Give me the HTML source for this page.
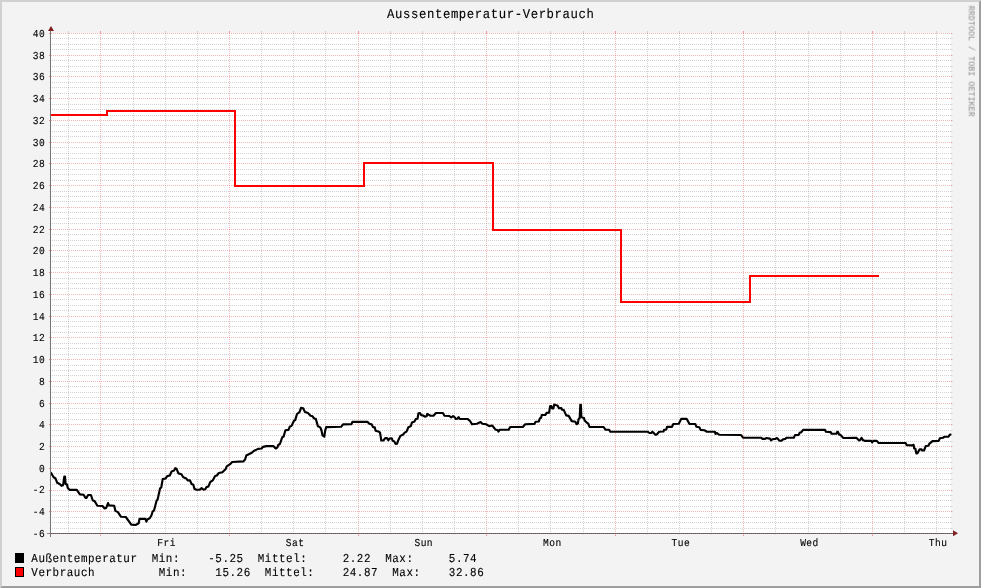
<!DOCTYPE html>
<html><head><meta charset="utf-8"><title>Aussentemperatur-Verbrauch</title>
<style>html,body{margin:0;padding:0;background:#F3F3F3;overflow:hidden}svg{display:block}text{font-family:"Liberation Mono",monospace;text-rendering:geometricPrecision}</style></head><body>
<svg width="981" height="588" viewBox="0 0 981 588">
<rect width="981" height="588" fill="#F3F3F3"/>
<polygon points="0,0 981,0 979,2 2,2 2,586 0,588" fill="#D0D0D0"/>
<polygon points="981,588 981,0 979,2 979,586 2,586 0,588" fill="#9E9E9E"/>
<g shape-rendering="crispEdges">
<rect x="51" y="33" width="900" height="500" fill="#fff"/>
</g>
<g shape-rendering="crispEdges" fill="none" stroke-width="1">
<path d="M49 528.5H50" stroke="#E4E4E4"/>
<path d="M951 528.5H952" stroke="#D8D8D8"/><path d="M952 528.5H953" stroke="#E6E6E6"/>
<path d="M52 528.5H951" stroke="#909090" stroke-opacity="0.4" stroke-dasharray="1 1"/>
<path d="M49 522.5H50" stroke="#E4E4E4"/>
<path d="M951 522.5H952" stroke="#D8D8D8"/><path d="M952 522.5H953" stroke="#E6E6E6"/>
<path d="M52 522.5H951" stroke="#909090" stroke-opacity="0.4" stroke-dasharray="1 1"/>
<path d="M49 517.5H50" stroke="#E4E4E4"/>
<path d="M951 517.5H952" stroke="#D8D8D8"/><path d="M952 517.5H953" stroke="#E6E6E6"/>
<path d="M52 517.5H951" stroke="#909090" stroke-opacity="0.4" stroke-dasharray="1 1"/>
<path d="M49 506.5H50" stroke="#E4E4E4"/>
<path d="M951 506.5H952" stroke="#D8D8D8"/><path d="M952 506.5H953" stroke="#E6E6E6"/>
<path d="M52 506.5H951" stroke="#909090" stroke-opacity="0.4" stroke-dasharray="1 1"/>
<path d="M49 500.5H50" stroke="#E4E4E4"/>
<path d="M951 500.5H952" stroke="#D8D8D8"/><path d="M952 500.5H953" stroke="#E6E6E6"/>
<path d="M52 500.5H951" stroke="#909090" stroke-opacity="0.4" stroke-dasharray="1 1"/>
<path d="M49 495.5H50" stroke="#E4E4E4"/>
<path d="M951 495.5H952" stroke="#D8D8D8"/><path d="M952 495.5H953" stroke="#E6E6E6"/>
<path d="M52 495.5H951" stroke="#909090" stroke-opacity="0.4" stroke-dasharray="1 1"/>
<path d="M49 484.5H50" stroke="#E4E4E4"/>
<path d="M951 484.5H952" stroke="#D8D8D8"/><path d="M952 484.5H953" stroke="#E6E6E6"/>
<path d="M52 484.5H951" stroke="#909090" stroke-opacity="0.4" stroke-dasharray="1 1"/>
<path d="M49 479.5H50" stroke="#E4E4E4"/>
<path d="M951 479.5H952" stroke="#D8D8D8"/><path d="M952 479.5H953" stroke="#E6E6E6"/>
<path d="M52 479.5H951" stroke="#909090" stroke-opacity="0.4" stroke-dasharray="1 1"/>
<path d="M49 473.5H50" stroke="#E4E4E4"/>
<path d="M951 473.5H952" stroke="#D8D8D8"/><path d="M952 473.5H953" stroke="#E6E6E6"/>
<path d="M52 473.5H951" stroke="#909090" stroke-opacity="0.4" stroke-dasharray="1 1"/>
<path d="M49 462.5H50" stroke="#E4E4E4"/>
<path d="M951 462.5H952" stroke="#D8D8D8"/><path d="M952 462.5H953" stroke="#E6E6E6"/>
<path d="M52 462.5H951" stroke="#909090" stroke-opacity="0.4" stroke-dasharray="1 1"/>
<path d="M49 457.5H50" stroke="#E4E4E4"/>
<path d="M951 457.5H952" stroke="#D8D8D8"/><path d="M952 457.5H953" stroke="#E6E6E6"/>
<path d="M52 457.5H951" stroke="#909090" stroke-opacity="0.4" stroke-dasharray="1 1"/>
<path d="M49 451.5H50" stroke="#E4E4E4"/>
<path d="M951 451.5H952" stroke="#D8D8D8"/><path d="M952 451.5H953" stroke="#E6E6E6"/>
<path d="M52 451.5H951" stroke="#909090" stroke-opacity="0.4" stroke-dasharray="1 1"/>
<path d="M49 441.5H50" stroke="#E4E4E4"/>
<path d="M951 441.5H952" stroke="#D8D8D8"/><path d="M952 441.5H953" stroke="#E6E6E6"/>
<path d="M52 441.5H951" stroke="#909090" stroke-opacity="0.4" stroke-dasharray="1 1"/>
<path d="M49 435.5H50" stroke="#E4E4E4"/>
<path d="M951 435.5H952" stroke="#D8D8D8"/><path d="M952 435.5H953" stroke="#E6E6E6"/>
<path d="M52 435.5H951" stroke="#909090" stroke-opacity="0.4" stroke-dasharray="1 1"/>
<path d="M49 430.5H50" stroke="#E4E4E4"/>
<path d="M951 430.5H952" stroke="#D8D8D8"/><path d="M952 430.5H953" stroke="#E6E6E6"/>
<path d="M52 430.5H951" stroke="#909090" stroke-opacity="0.4" stroke-dasharray="1 1"/>
<path d="M49 419.5H50" stroke="#E4E4E4"/>
<path d="M951 419.5H952" stroke="#D8D8D8"/><path d="M952 419.5H953" stroke="#E6E6E6"/>
<path d="M52 419.5H951" stroke="#909090" stroke-opacity="0.4" stroke-dasharray="1 1"/>
<path d="M49 413.5H50" stroke="#E4E4E4"/>
<path d="M951 413.5H952" stroke="#D8D8D8"/><path d="M952 413.5H953" stroke="#E6E6E6"/>
<path d="M52 413.5H951" stroke="#909090" stroke-opacity="0.4" stroke-dasharray="1 1"/>
<path d="M49 408.5H50" stroke="#E4E4E4"/>
<path d="M951 408.5H952" stroke="#D8D8D8"/><path d="M952 408.5H953" stroke="#E6E6E6"/>
<path d="M52 408.5H951" stroke="#909090" stroke-opacity="0.4" stroke-dasharray="1 1"/>
<path d="M49 397.5H50" stroke="#E4E4E4"/>
<path d="M951 397.5H952" stroke="#D8D8D8"/><path d="M952 397.5H953" stroke="#E6E6E6"/>
<path d="M52 397.5H951" stroke="#909090" stroke-opacity="0.4" stroke-dasharray="1 1"/>
<path d="M49 392.5H50" stroke="#E4E4E4"/>
<path d="M951 392.5H952" stroke="#D8D8D8"/><path d="M952 392.5H953" stroke="#E6E6E6"/>
<path d="M52 392.5H951" stroke="#909090" stroke-opacity="0.4" stroke-dasharray="1 1"/>
<path d="M49 386.5H50" stroke="#E4E4E4"/>
<path d="M951 386.5H952" stroke="#D8D8D8"/><path d="M952 386.5H953" stroke="#E6E6E6"/>
<path d="M52 386.5H951" stroke="#909090" stroke-opacity="0.4" stroke-dasharray="1 1"/>
<path d="M49 375.5H50" stroke="#E4E4E4"/>
<path d="M951 375.5H952" stroke="#D8D8D8"/><path d="M952 375.5H953" stroke="#E6E6E6"/>
<path d="M52 375.5H951" stroke="#909090" stroke-opacity="0.4" stroke-dasharray="1 1"/>
<path d="M49 370.5H50" stroke="#E4E4E4"/>
<path d="M951 370.5H952" stroke="#D8D8D8"/><path d="M952 370.5H953" stroke="#E6E6E6"/>
<path d="M52 370.5H951" stroke="#909090" stroke-opacity="0.4" stroke-dasharray="1 1"/>
<path d="M49 365.5H50" stroke="#E4E4E4"/>
<path d="M951 365.5H952" stroke="#D8D8D8"/><path d="M952 365.5H953" stroke="#E6E6E6"/>
<path d="M52 365.5H951" stroke="#909090" stroke-opacity="0.4" stroke-dasharray="1 1"/>
<path d="M49 354.5H50" stroke="#E4E4E4"/>
<path d="M951 354.5H952" stroke="#D8D8D8"/><path d="M952 354.5H953" stroke="#E6E6E6"/>
<path d="M52 354.5H951" stroke="#909090" stroke-opacity="0.4" stroke-dasharray="1 1"/>
<path d="M49 348.5H50" stroke="#E4E4E4"/>
<path d="M951 348.5H952" stroke="#D8D8D8"/><path d="M952 348.5H953" stroke="#E6E6E6"/>
<path d="M52 348.5H951" stroke="#909090" stroke-opacity="0.4" stroke-dasharray="1 1"/>
<path d="M49 343.5H50" stroke="#E4E4E4"/>
<path d="M951 343.5H952" stroke="#D8D8D8"/><path d="M952 343.5H953" stroke="#E6E6E6"/>
<path d="M52 343.5H951" stroke="#909090" stroke-opacity="0.4" stroke-dasharray="1 1"/>
<path d="M49 332.5H50" stroke="#E4E4E4"/>
<path d="M951 332.5H952" stroke="#D8D8D8"/><path d="M952 332.5H953" stroke="#E6E6E6"/>
<path d="M52 332.5H951" stroke="#909090" stroke-opacity="0.4" stroke-dasharray="1 1"/>
<path d="M49 326.5H50" stroke="#E4E4E4"/>
<path d="M951 326.5H952" stroke="#D8D8D8"/><path d="M952 326.5H953" stroke="#E6E6E6"/>
<path d="M52 326.5H951" stroke="#909090" stroke-opacity="0.4" stroke-dasharray="1 1"/>
<path d="M49 321.5H50" stroke="#E4E4E4"/>
<path d="M951 321.5H952" stroke="#D8D8D8"/><path d="M952 321.5H953" stroke="#E6E6E6"/>
<path d="M52 321.5H951" stroke="#909090" stroke-opacity="0.4" stroke-dasharray="1 1"/>
<path d="M49 310.5H50" stroke="#E4E4E4"/>
<path d="M951 310.5H952" stroke="#D8D8D8"/><path d="M952 310.5H953" stroke="#E6E6E6"/>
<path d="M52 310.5H951" stroke="#909090" stroke-opacity="0.4" stroke-dasharray="1 1"/>
<path d="M49 305.5H50" stroke="#E4E4E4"/>
<path d="M951 305.5H952" stroke="#D8D8D8"/><path d="M952 305.5H953" stroke="#E6E6E6"/>
<path d="M52 305.5H951" stroke="#909090" stroke-opacity="0.4" stroke-dasharray="1 1"/>
<path d="M49 299.5H50" stroke="#E4E4E4"/>
<path d="M951 299.5H952" stroke="#D8D8D8"/><path d="M952 299.5H953" stroke="#E6E6E6"/>
<path d="M52 299.5H951" stroke="#909090" stroke-opacity="0.4" stroke-dasharray="1 1"/>
<path d="M49 288.5H50" stroke="#E4E4E4"/>
<path d="M951 288.5H952" stroke="#D8D8D8"/><path d="M952 288.5H953" stroke="#E6E6E6"/>
<path d="M52 288.5H951" stroke="#909090" stroke-opacity="0.4" stroke-dasharray="1 1"/>
<path d="M49 283.5H50" stroke="#E4E4E4"/>
<path d="M951 283.5H952" stroke="#D8D8D8"/><path d="M952 283.5H953" stroke="#E6E6E6"/>
<path d="M52 283.5H951" stroke="#909090" stroke-opacity="0.4" stroke-dasharray="1 1"/>
<path d="M49 278.5H50" stroke="#E4E4E4"/>
<path d="M951 278.5H952" stroke="#D8D8D8"/><path d="M952 278.5H953" stroke="#E6E6E6"/>
<path d="M52 278.5H951" stroke="#909090" stroke-opacity="0.4" stroke-dasharray="1 1"/>
<path d="M49 267.5H50" stroke="#E4E4E4"/>
<path d="M951 267.5H952" stroke="#D8D8D8"/><path d="M952 267.5H953" stroke="#E6E6E6"/>
<path d="M52 267.5H951" stroke="#909090" stroke-opacity="0.4" stroke-dasharray="1 1"/>
<path d="M49 261.5H50" stroke="#E4E4E4"/>
<path d="M951 261.5H952" stroke="#D8D8D8"/><path d="M952 261.5H953" stroke="#E6E6E6"/>
<path d="M52 261.5H951" stroke="#909090" stroke-opacity="0.4" stroke-dasharray="1 1"/>
<path d="M49 256.5H50" stroke="#E4E4E4"/>
<path d="M951 256.5H952" stroke="#D8D8D8"/><path d="M952 256.5H953" stroke="#E6E6E6"/>
<path d="M52 256.5H951" stroke="#909090" stroke-opacity="0.4" stroke-dasharray="1 1"/>
<path d="M49 245.5H50" stroke="#E4E4E4"/>
<path d="M951 245.5H952" stroke="#D8D8D8"/><path d="M952 245.5H953" stroke="#E6E6E6"/>
<path d="M52 245.5H951" stroke="#909090" stroke-opacity="0.4" stroke-dasharray="1 1"/>
<path d="M49 240.5H50" stroke="#E4E4E4"/>
<path d="M951 240.5H952" stroke="#D8D8D8"/><path d="M952 240.5H953" stroke="#E6E6E6"/>
<path d="M52 240.5H951" stroke="#909090" stroke-opacity="0.4" stroke-dasharray="1 1"/>
<path d="M49 234.5H50" stroke="#E4E4E4"/>
<path d="M951 234.5H952" stroke="#D8D8D8"/><path d="M952 234.5H953" stroke="#E6E6E6"/>
<path d="M52 234.5H951" stroke="#909090" stroke-opacity="0.4" stroke-dasharray="1 1"/>
<path d="M49 223.5H50" stroke="#E4E4E4"/>
<path d="M951 223.5H952" stroke="#D8D8D8"/><path d="M952 223.5H953" stroke="#E6E6E6"/>
<path d="M52 223.5H951" stroke="#909090" stroke-opacity="0.4" stroke-dasharray="1 1"/>
<path d="M49 218.5H50" stroke="#E4E4E4"/>
<path d="M951 218.5H952" stroke="#D8D8D8"/><path d="M952 218.5H953" stroke="#E6E6E6"/>
<path d="M52 218.5H951" stroke="#909090" stroke-opacity="0.4" stroke-dasharray="1 1"/>
<path d="M49 212.5H50" stroke="#E4E4E4"/>
<path d="M951 212.5H952" stroke="#D8D8D8"/><path d="M952 212.5H953" stroke="#E6E6E6"/>
<path d="M52 212.5H951" stroke="#909090" stroke-opacity="0.4" stroke-dasharray="1 1"/>
<path d="M49 201.5H50" stroke="#E4E4E4"/>
<path d="M951 201.5H952" stroke="#D8D8D8"/><path d="M952 201.5H953" stroke="#E6E6E6"/>
<path d="M52 201.5H951" stroke="#909090" stroke-opacity="0.4" stroke-dasharray="1 1"/>
<path d="M49 196.5H50" stroke="#E4E4E4"/>
<path d="M951 196.5H952" stroke="#D8D8D8"/><path d="M952 196.5H953" stroke="#E6E6E6"/>
<path d="M52 196.5H951" stroke="#909090" stroke-opacity="0.4" stroke-dasharray="1 1"/>
<path d="M49 191.5H50" stroke="#E4E4E4"/>
<path d="M951 191.5H952" stroke="#D8D8D8"/><path d="M952 191.5H953" stroke="#E6E6E6"/>
<path d="M52 191.5H951" stroke="#909090" stroke-opacity="0.4" stroke-dasharray="1 1"/>
<path d="M49 180.5H50" stroke="#E4E4E4"/>
<path d="M951 180.5H952" stroke="#D8D8D8"/><path d="M952 180.5H953" stroke="#E6E6E6"/>
<path d="M52 180.5H951" stroke="#909090" stroke-opacity="0.4" stroke-dasharray="1 1"/>
<path d="M49 174.5H50" stroke="#E4E4E4"/>
<path d="M951 174.5H952" stroke="#D8D8D8"/><path d="M952 174.5H953" stroke="#E6E6E6"/>
<path d="M52 174.5H951" stroke="#909090" stroke-opacity="0.4" stroke-dasharray="1 1"/>
<path d="M49 169.5H50" stroke="#E4E4E4"/>
<path d="M951 169.5H952" stroke="#D8D8D8"/><path d="M952 169.5H953" stroke="#E6E6E6"/>
<path d="M52 169.5H951" stroke="#909090" stroke-opacity="0.4" stroke-dasharray="1 1"/>
<path d="M49 158.5H50" stroke="#E4E4E4"/>
<path d="M951 158.5H952" stroke="#D8D8D8"/><path d="M952 158.5H953" stroke="#E6E6E6"/>
<path d="M52 158.5H951" stroke="#909090" stroke-opacity="0.4" stroke-dasharray="1 1"/>
<path d="M49 153.5H50" stroke="#E4E4E4"/>
<path d="M951 153.5H952" stroke="#D8D8D8"/><path d="M952 153.5H953" stroke="#E6E6E6"/>
<path d="M52 153.5H951" stroke="#909090" stroke-opacity="0.4" stroke-dasharray="1 1"/>
<path d="M49 147.5H50" stroke="#E4E4E4"/>
<path d="M951 147.5H952" stroke="#D8D8D8"/><path d="M952 147.5H953" stroke="#E6E6E6"/>
<path d="M52 147.5H951" stroke="#909090" stroke-opacity="0.4" stroke-dasharray="1 1"/>
<path d="M49 136.5H50" stroke="#E4E4E4"/>
<path d="M951 136.5H952" stroke="#D8D8D8"/><path d="M952 136.5H953" stroke="#E6E6E6"/>
<path d="M52 136.5H951" stroke="#909090" stroke-opacity="0.4" stroke-dasharray="1 1"/>
<path d="M49 131.5H50" stroke="#E4E4E4"/>
<path d="M951 131.5H952" stroke="#D8D8D8"/><path d="M952 131.5H953" stroke="#E6E6E6"/>
<path d="M52 131.5H951" stroke="#909090" stroke-opacity="0.4" stroke-dasharray="1 1"/>
<path d="M49 125.5H50" stroke="#E4E4E4"/>
<path d="M951 125.5H952" stroke="#D8D8D8"/><path d="M952 125.5H953" stroke="#E6E6E6"/>
<path d="M52 125.5H951" stroke="#909090" stroke-opacity="0.4" stroke-dasharray="1 1"/>
<path d="M49 115.5H50" stroke="#E4E4E4"/>
<path d="M951 115.5H952" stroke="#D8D8D8"/><path d="M952 115.5H953" stroke="#E6E6E6"/>
<path d="M52 115.5H951" stroke="#909090" stroke-opacity="0.4" stroke-dasharray="1 1"/>
<path d="M49 109.5H50" stroke="#E4E4E4"/>
<path d="M951 109.5H952" stroke="#D8D8D8"/><path d="M952 109.5H953" stroke="#E6E6E6"/>
<path d="M52 109.5H951" stroke="#909090" stroke-opacity="0.4" stroke-dasharray="1 1"/>
<path d="M49 104.5H50" stroke="#E4E4E4"/>
<path d="M951 104.5H952" stroke="#D8D8D8"/><path d="M952 104.5H953" stroke="#E6E6E6"/>
<path d="M52 104.5H951" stroke="#909090" stroke-opacity="0.4" stroke-dasharray="1 1"/>
<path d="M49 93.5H50" stroke="#E4E4E4"/>
<path d="M951 93.5H952" stroke="#D8D8D8"/><path d="M952 93.5H953" stroke="#E6E6E6"/>
<path d="M52 93.5H951" stroke="#909090" stroke-opacity="0.4" stroke-dasharray="1 1"/>
<path d="M49 87.5H50" stroke="#E4E4E4"/>
<path d="M951 87.5H952" stroke="#D8D8D8"/><path d="M952 87.5H953" stroke="#E6E6E6"/>
<path d="M52 87.5H951" stroke="#909090" stroke-opacity="0.4" stroke-dasharray="1 1"/>
<path d="M49 82.5H50" stroke="#E4E4E4"/>
<path d="M951 82.5H952" stroke="#D8D8D8"/><path d="M952 82.5H953" stroke="#E6E6E6"/>
<path d="M52 82.5H951" stroke="#909090" stroke-opacity="0.4" stroke-dasharray="1 1"/>
<path d="M49 71.5H50" stroke="#E4E4E4"/>
<path d="M951 71.5H952" stroke="#D8D8D8"/><path d="M952 71.5H953" stroke="#E6E6E6"/>
<path d="M52 71.5H951" stroke="#909090" stroke-opacity="0.4" stroke-dasharray="1 1"/>
<path d="M49 66.5H50" stroke="#E4E4E4"/>
<path d="M951 66.5H952" stroke="#D8D8D8"/><path d="M952 66.5H953" stroke="#E6E6E6"/>
<path d="M52 66.5H951" stroke="#909090" stroke-opacity="0.4" stroke-dasharray="1 1"/>
<path d="M49 60.5H50" stroke="#E4E4E4"/>
<path d="M951 60.5H952" stroke="#D8D8D8"/><path d="M952 60.5H953" stroke="#E6E6E6"/>
<path d="M52 60.5H951" stroke="#909090" stroke-opacity="0.4" stroke-dasharray="1 1"/>
<path d="M49 49.5H50" stroke="#E4E4E4"/>
<path d="M951 49.5H952" stroke="#D8D8D8"/><path d="M952 49.5H953" stroke="#E6E6E6"/>
<path d="M52 49.5H951" stroke="#909090" stroke-opacity="0.4" stroke-dasharray="1 1"/>
<path d="M49 44.5H50" stroke="#E4E4E4"/>
<path d="M951 44.5H952" stroke="#D8D8D8"/><path d="M952 44.5H953" stroke="#E6E6E6"/>
<path d="M52 44.5H951" stroke="#909090" stroke-opacity="0.4" stroke-dasharray="1 1"/>
<path d="M49 38.5H50" stroke="#E4E4E4"/>
<path d="M951 38.5H952" stroke="#D8D8D8"/><path d="M952 38.5H953" stroke="#E6E6E6"/>
<path d="M52 38.5H951" stroke="#909090" stroke-opacity="0.4" stroke-dasharray="1 1"/>
<path d="M68.5 31V33" stroke="#D2D2D2"/>
<path d="M68.5 534V535" stroke="#E4E4E4"/>
<path d="M68.5 33V533" stroke="#909090" stroke-opacity="0.4" stroke-dasharray="1 1"/>
<path d="M133.5 31V33" stroke="#D2D2D2"/>
<path d="M133.5 534V535" stroke="#E4E4E4"/>
<path d="M133.5 33V533" stroke="#909090" stroke-opacity="0.4" stroke-dasharray="1 1"/>
<path d="M165.5 31V33" stroke="#D2D2D2"/>
<path d="M165.5 534V535" stroke="#E4E4E4"/>
<path d="M165.5 33V533" stroke="#909090" stroke-opacity="0.4" stroke-dasharray="1 1"/>
<path d="M197.5 31V33" stroke="#D2D2D2"/>
<path d="M197.5 534V535" stroke="#E4E4E4"/>
<path d="M197.5 33V533" stroke="#909090" stroke-opacity="0.4" stroke-dasharray="1 1"/>
<path d="M261.5 31V33" stroke="#D2D2D2"/>
<path d="M261.5 534V535" stroke="#E4E4E4"/>
<path d="M261.5 33V533" stroke="#909090" stroke-opacity="0.4" stroke-dasharray="1 1"/>
<path d="M293.5 31V33" stroke="#D2D2D2"/>
<path d="M293.5 534V535" stroke="#E4E4E4"/>
<path d="M293.5 33V533" stroke="#909090" stroke-opacity="0.4" stroke-dasharray="1 1"/>
<path d="M325.5 31V33" stroke="#D2D2D2"/>
<path d="M325.5 534V535" stroke="#E4E4E4"/>
<path d="M325.5 33V533" stroke="#909090" stroke-opacity="0.4" stroke-dasharray="1 1"/>
<path d="M390.5 31V33" stroke="#D2D2D2"/>
<path d="M390.5 534V535" stroke="#E4E4E4"/>
<path d="M390.5 33V533" stroke="#909090" stroke-opacity="0.4" stroke-dasharray="1 1"/>
<path d="M422.5 31V33" stroke="#D2D2D2"/>
<path d="M422.5 534V535" stroke="#E4E4E4"/>
<path d="M422.5 33V533" stroke="#909090" stroke-opacity="0.4" stroke-dasharray="1 1"/>
<path d="M454.5 31V33" stroke="#D2D2D2"/>
<path d="M454.5 534V535" stroke="#E4E4E4"/>
<path d="M454.5 33V533" stroke="#909090" stroke-opacity="0.4" stroke-dasharray="1 1"/>
<path d="M518.5 31V33" stroke="#D2D2D2"/>
<path d="M518.5 534V535" stroke="#E4E4E4"/>
<path d="M518.5 33V533" stroke="#909090" stroke-opacity="0.4" stroke-dasharray="1 1"/>
<path d="M550.5 31V33" stroke="#D2D2D2"/>
<path d="M550.5 534V535" stroke="#E4E4E4"/>
<path d="M550.5 33V533" stroke="#909090" stroke-opacity="0.4" stroke-dasharray="1 1"/>
<path d="M583.5 31V33" stroke="#D2D2D2"/>
<path d="M583.5 534V535" stroke="#E4E4E4"/>
<path d="M583.5 33V533" stroke="#909090" stroke-opacity="0.4" stroke-dasharray="1 1"/>
<path d="M647.5 31V33" stroke="#D2D2D2"/>
<path d="M647.5 534V535" stroke="#E4E4E4"/>
<path d="M647.5 33V533" stroke="#909090" stroke-opacity="0.4" stroke-dasharray="1 1"/>
<path d="M679.5 31V33" stroke="#D2D2D2"/>
<path d="M679.5 534V535" stroke="#E4E4E4"/>
<path d="M679.5 33V533" stroke="#909090" stroke-opacity="0.4" stroke-dasharray="1 1"/>
<path d="M711.5 31V33" stroke="#D2D2D2"/>
<path d="M711.5 534V535" stroke="#E4E4E4"/>
<path d="M711.5 33V533" stroke="#909090" stroke-opacity="0.4" stroke-dasharray="1 1"/>
<path d="M775.5 31V33" stroke="#D2D2D2"/>
<path d="M775.5 534V535" stroke="#E4E4E4"/>
<path d="M775.5 33V533" stroke="#909090" stroke-opacity="0.4" stroke-dasharray="1 1"/>
<path d="M808.5 31V33" stroke="#D2D2D2"/>
<path d="M808.5 534V535" stroke="#E4E4E4"/>
<path d="M808.5 33V533" stroke="#909090" stroke-opacity="0.4" stroke-dasharray="1 1"/>
<path d="M840.5 31V33" stroke="#D2D2D2"/>
<path d="M840.5 534V535" stroke="#E4E4E4"/>
<path d="M840.5 33V533" stroke="#909090" stroke-opacity="0.4" stroke-dasharray="1 1"/>
<path d="M904.5 31V33" stroke="#D2D2D2"/>
<path d="M904.5 534V535" stroke="#E4E4E4"/>
<path d="M904.5 33V533" stroke="#909090" stroke-opacity="0.4" stroke-dasharray="1 1"/>
<path d="M936.5 31V33" stroke="#D2D2D2"/>
<path d="M936.5 534V535" stroke="#E4E4E4"/>
<path d="M936.5 33V533" stroke="#909090" stroke-opacity="0.4" stroke-dasharray="1 1"/>
<path d="M49 533.5H50" stroke="#EF8E96"/>
<path d="M951 533.5H952" stroke="#EE8E94"/><path d="M952 533.5H953" stroke="#F2D2D2"/>
<path d="M51 533.5H951" stroke="#E05050" stroke-opacity="0.4" stroke-dasharray="1 1"/>
<path d="M49 511.5H50" stroke="#EF8E96"/>
<path d="M951 511.5H952" stroke="#EE8E94"/><path d="M952 511.5H953" stroke="#F2D2D2"/>
<path d="M51 511.5H951" stroke="#E05050" stroke-opacity="0.4" stroke-dasharray="1 1"/>
<path d="M49 490.5H50" stroke="#EF8E96"/>
<path d="M951 490.5H952" stroke="#EE8E94"/><path d="M952 490.5H953" stroke="#F2D2D2"/>
<path d="M51 490.5H951" stroke="#E05050" stroke-opacity="0.4" stroke-dasharray="1 1"/>
<path d="M49 468.5H50" stroke="#EF8E96"/>
<path d="M951 468.5H952" stroke="#EE8E94"/><path d="M952 468.5H953" stroke="#F2D2D2"/>
<path d="M51 468.5H951" stroke="#E05050" stroke-opacity="0.4" stroke-dasharray="1 1"/>
<path d="M49 446.5H50" stroke="#EF8E96"/>
<path d="M951 446.5H952" stroke="#EE8E94"/><path d="M952 446.5H953" stroke="#F2D2D2"/>
<path d="M51 446.5H951" stroke="#E05050" stroke-opacity="0.4" stroke-dasharray="1 1"/>
<path d="M49 424.5H50" stroke="#EF8E96"/>
<path d="M951 424.5H952" stroke="#EE8E94"/><path d="M952 424.5H953" stroke="#F2D2D2"/>
<path d="M51 424.5H951" stroke="#E05050" stroke-opacity="0.4" stroke-dasharray="1 1"/>
<path d="M49 403.5H50" stroke="#EF8E96"/>
<path d="M951 403.5H952" stroke="#EE8E94"/><path d="M952 403.5H953" stroke="#F2D2D2"/>
<path d="M51 403.5H951" stroke="#E05050" stroke-opacity="0.4" stroke-dasharray="1 1"/>
<path d="M49 381.5H50" stroke="#EF8E96"/>
<path d="M951 381.5H952" stroke="#EE8E94"/><path d="M952 381.5H953" stroke="#F2D2D2"/>
<path d="M51 381.5H951" stroke="#E05050" stroke-opacity="0.4" stroke-dasharray="1 1"/>
<path d="M49 359.5H50" stroke="#EF8E96"/>
<path d="M951 359.5H952" stroke="#EE8E94"/><path d="M952 359.5H953" stroke="#F2D2D2"/>
<path d="M51 359.5H951" stroke="#E05050" stroke-opacity="0.4" stroke-dasharray="1 1"/>
<path d="M49 337.5H50" stroke="#EF8E96"/>
<path d="M951 337.5H952" stroke="#EE8E94"/><path d="M952 337.5H953" stroke="#F2D2D2"/>
<path d="M51 337.5H951" stroke="#E05050" stroke-opacity="0.4" stroke-dasharray="1 1"/>
<path d="M49 316.5H50" stroke="#EF8E96"/>
<path d="M951 316.5H952" stroke="#EE8E94"/><path d="M952 316.5H953" stroke="#F2D2D2"/>
<path d="M51 316.5H951" stroke="#E05050" stroke-opacity="0.4" stroke-dasharray="1 1"/>
<path d="M49 294.5H50" stroke="#EF8E96"/>
<path d="M951 294.5H952" stroke="#EE8E94"/><path d="M952 294.5H953" stroke="#F2D2D2"/>
<path d="M51 294.5H951" stroke="#E05050" stroke-opacity="0.4" stroke-dasharray="1 1"/>
<path d="M49 272.5H50" stroke="#EF8E96"/>
<path d="M951 272.5H952" stroke="#EE8E94"/><path d="M952 272.5H953" stroke="#F2D2D2"/>
<path d="M51 272.5H951" stroke="#E05050" stroke-opacity="0.4" stroke-dasharray="1 1"/>
<path d="M49 250.5H50" stroke="#EF8E96"/>
<path d="M951 250.5H952" stroke="#EE8E94"/><path d="M952 250.5H953" stroke="#F2D2D2"/>
<path d="M51 250.5H951" stroke="#E05050" stroke-opacity="0.4" stroke-dasharray="1 1"/>
<path d="M49 229.5H50" stroke="#EF8E96"/>
<path d="M951 229.5H952" stroke="#EE8E94"/><path d="M952 229.5H953" stroke="#F2D2D2"/>
<path d="M51 229.5H951" stroke="#E05050" stroke-opacity="0.4" stroke-dasharray="1 1"/>
<path d="M49 207.5H50" stroke="#EF8E96"/>
<path d="M951 207.5H952" stroke="#EE8E94"/><path d="M952 207.5H953" stroke="#F2D2D2"/>
<path d="M51 207.5H951" stroke="#E05050" stroke-opacity="0.4" stroke-dasharray="1 1"/>
<path d="M49 185.5H50" stroke="#EF8E96"/>
<path d="M951 185.5H952" stroke="#EE8E94"/><path d="M952 185.5H953" stroke="#F2D2D2"/>
<path d="M51 185.5H951" stroke="#E05050" stroke-opacity="0.4" stroke-dasharray="1 1"/>
<path d="M49 163.5H50" stroke="#EF8E96"/>
<path d="M951 163.5H952" stroke="#EE8E94"/><path d="M952 163.5H953" stroke="#F2D2D2"/>
<path d="M51 163.5H951" stroke="#E05050" stroke-opacity="0.4" stroke-dasharray="1 1"/>
<path d="M49 142.5H50" stroke="#EF8E96"/>
<path d="M951 142.5H952" stroke="#EE8E94"/><path d="M952 142.5H953" stroke="#F2D2D2"/>
<path d="M51 142.5H951" stroke="#E05050" stroke-opacity="0.4" stroke-dasharray="1 1"/>
<path d="M49 120.5H50" stroke="#EF8E96"/>
<path d="M951 120.5H952" stroke="#EE8E94"/><path d="M952 120.5H953" stroke="#F2D2D2"/>
<path d="M51 120.5H951" stroke="#E05050" stroke-opacity="0.4" stroke-dasharray="1 1"/>
<path d="M49 98.5H50" stroke="#EF8E96"/>
<path d="M951 98.5H952" stroke="#EE8E94"/><path d="M952 98.5H953" stroke="#F2D2D2"/>
<path d="M51 98.5H951" stroke="#E05050" stroke-opacity="0.4" stroke-dasharray="1 1"/>
<path d="M49 76.5H50" stroke="#EF8E96"/>
<path d="M951 76.5H952" stroke="#EE8E94"/><path d="M952 76.5H953" stroke="#F2D2D2"/>
<path d="M51 76.5H951" stroke="#E05050" stroke-opacity="0.4" stroke-dasharray="1 1"/>
<path d="M49 55.5H50" stroke="#EF8E96"/>
<path d="M951 55.5H952" stroke="#EE8E94"/><path d="M952 55.5H953" stroke="#F2D2D2"/>
<path d="M51 55.5H951" stroke="#E05050" stroke-opacity="0.4" stroke-dasharray="1 1"/>
<path d="M49 33.5H50" stroke="#EF8E96"/>
<path d="M951 33.5H952" stroke="#EE8E94"/><path d="M952 33.5H953" stroke="#F2D2D2"/>
<path d="M51 33.5H951" stroke="#E05050" stroke-opacity="0.4" stroke-dasharray="1 1"/>
<path d="M100.5 31V33" stroke="#F09A9A"/>
<path d="M100.5 534V535" stroke="#F6CACA"/>
<path d="M100.5 535V536" stroke="#EF8E96"/>
<path d="M100.5 33V533" stroke="#E05050" stroke-opacity="0.4" stroke-dasharray="1 1"/>
<path d="M229.5 31V33" stroke="#F09A9A"/>
<path d="M229.5 534V535" stroke="#F6CACA"/>
<path d="M229.5 535V536" stroke="#EF8E96"/>
<path d="M229.5 33V533" stroke="#E05050" stroke-opacity="0.4" stroke-dasharray="1 1"/>
<path d="M358.5 31V33" stroke="#F09A9A"/>
<path d="M358.5 534V535" stroke="#F6CACA"/>
<path d="M358.5 535V536" stroke="#EF8E96"/>
<path d="M358.5 33V533" stroke="#E05050" stroke-opacity="0.4" stroke-dasharray="1 1"/>
<path d="M486.5 31V33" stroke="#F09A9A"/>
<path d="M486.5 534V535" stroke="#F6CACA"/>
<path d="M486.5 535V536" stroke="#EF8E96"/>
<path d="M486.5 33V533" stroke="#E05050" stroke-opacity="0.4" stroke-dasharray="1 1"/>
<path d="M615.5 31V33" stroke="#F09A9A"/>
<path d="M615.5 534V535" stroke="#F6CACA"/>
<path d="M615.5 535V536" stroke="#EF8E96"/>
<path d="M615.5 33V533" stroke="#E05050" stroke-opacity="0.4" stroke-dasharray="1 1"/>
<path d="M743.5 31V33" stroke="#F09A9A"/>
<path d="M743.5 534V535" stroke="#F6CACA"/>
<path d="M743.5 535V536" stroke="#EF8E96"/>
<path d="M743.5 33V533" stroke="#E05050" stroke-opacity="0.4" stroke-dasharray="1 1"/>
<path d="M872.5 31V33" stroke="#F09A9A"/>
<path d="M872.5 534V535" stroke="#F6CACA"/>
<path d="M872.5 535V536" stroke="#EF8E96"/>
<path d="M872.5 33V533" stroke="#E05050" stroke-opacity="0.4" stroke-dasharray="1 1"/>
</g>
<polyline fill="none" stroke="#FF0000" stroke-width="2" stroke-linejoin="miter" points="51,115 107,115 107,111 235,111 235,186 364,186 364,163 493,163 493,230 621,230 621,302 750,302 750,276 879,276"/>
<polyline fill="none" stroke="#000" stroke-width="2.15" stroke-linejoin="round" stroke-linecap="round" points="51.1,473 53.6,477.2 55.4,478.2 57.2,482.8 59.7,484 61.5,485.8 63.1,485.2 64.3,476.6 65,476.6 65.6,484 67,484.6 67.7,487.7 69.5,489.9 76.8,489.9 79.9,494.4 83.6,494.8 85.4,497.8 86.6,497.8 88.1,495 90.9,495 92.8,500.5 94.6,501.1 97.4,505.7 102.5,506 104.6,508.5 106.2,507.9 108.1,503 108.9,505.4 114.2,505.8 115.4,510.9 117.9,512.1 120.9,516.7 125.8,517 131.3,524.6 135.6,525 138.7,523.2 139.5,518.9 145.4,518.9 146.4,521.6 147.2,519.5 149.7,518.3 151.5,515.2 152.7,511.3 154,510.5 156.7,500.3 157.6,499.6 160.1,488.3 161.3,487.4 162.7,479.1 165.5,478.5 167.3,476.1 169.8,475.5 171.6,471.4 174.1,470.6 175.3,468.1 176.5,468.7 178.4,473.4 181.4,474.2 183.3,477.3 186.3,478.5 187.6,480.4 190,480.4 191.6,484 193.3,484.7 194.5,488.9 196.7,489.8 199.8,489.6 201.6,488.1 203.5,489.6 205.3,489.3 206.5,487.1 208.4,486.5 210.2,482.2 212.7,480.4 215.1,476.1 216.9,475.5 218.8,473 222.4,472.2 225.5,469.3 226.7,466.3 229.8,464.4 232.2,462 243.3,461.4 245.1,459.5 246.3,455.5 251.8,452.8 253.7,451 258,448.9 261.6,448.5 262.9,446.9 266.5,446.1 273.3,446.1 275.7,448.5 277.5,447.3 278.1,445.2 279.9,444 282.3,437.2 283.6,436.6 285.4,430.3 288.5,429.9 289.7,426.8 291.5,425.9 294,420.7 295.2,420.1 297,414 299.5,412.1 301,407.9 303.2,408.2 305,412.1 308.1,413.1 310.5,415.8 312.3,416.1 314.2,418.5 315.8,418.9 317.9,426.2 320.3,427.4 321.5,430.5 322.5,435.4 324.3,436.6 325.2,430.5 326.2,427.1 341.1,426.8 343,424.4 351.5,424.1 352.4,421.9 367.4,421.7 369.3,423.8 371.7,424.4 373,427.1 374.8,427.4 375.6,430.8 379.1,431.7 380.1,433 381.3,440.5 383.4,440.5 385.2,438.1 387,438.1 388.3,440.3 389.5,438.5 391.8,438.4 392.7,440.8 394.3,441.4 395.5,443.9 397.1,443.6 398.3,440.2 400.4,435.9 402.9,434.7 404.7,432.6 406.5,431.6 408.4,427.3 410.8,426.1 412,422.4 414.5,421.6 415.7,419.1 417.5,418.8 418.4,413.3 420,413 421.2,415.1 423.1,415.5 424.9,416.7 426.5,416.3 427.3,413.9 430.4,415.7 433.5,415.7 435.9,413 442.9,413 444.5,415.7 449.4,416 451.2,417.5 453.1,416 454.9,417.5 455.8,419 457.3,418.8 458.6,417.2 459.8,419 467.8,419 470.2,421.2 472,424.3 476.9,423.7 480.6,422.1 482.4,423.7 486.1,424.3 489.2,426.1 492.2,425.5 495.3,429.4 497.8,430.2 498.4,431.6 499.6,429.8 508.7,429.7 510.1,427 522.8,427 525.2,424.2 534.4,423.9 535.6,421.7 538.7,421.5 539.9,418.3 541.1,417.8 541.7,415 545.4,415 546.6,412.9 549.1,412.6 550.1,406.1 551.3,406.1 552.1,408.3 553.4,408.3 554.2,404.6 557.7,405.8 558.9,408.3 561.3,408 561.9,409.5 563.8,410.1 566.2,415.4 568.7,415.9 571.7,421.1 575.4,421.7 576.6,424.2 577.9,423.6 578.5,419.3 579.7,418.1 580.3,404.8 580.9,404.8 581.3,416.5 582.1,417.4 584,418.1 584.6,420.5 586.4,422.3 588.3,423.6 589.5,427 603.6,427 605.4,429.7 609.1,429.7 610.3,431.8 647.6,431.7 649.4,433 651.2,433 652.4,431.7 655.5,434.8 656.7,434.4 659.2,431.7 663.5,431.5 664.1,429.9 666.3,429.5 667.1,426.8 672,426.8 673.3,424 678.8,423.8 681.2,418.9 686.7,418.9 689.5,424 695.3,424 696.5,426.8 699.3,427.2 700.6,429.9 704.5,430.3 706.9,431.7 714.9,431.7 715.5,433.9 716.7,433 718,433.9 719.4,434.8 741.1,435 743,437.7 761.3,437.7 762.5,438.9 765,438.9 766.2,438 769.9,438.6 771.1,440.4 772.3,439.2 775.4,438.9 776.6,438 777.9,438.9 779.3,440.7 781.5,440.7 783.4,439.2 785.4,438.9 786.4,437.7 793.8,437.7 795,435.1 798.7,434.9 799.6,432.8 801.1,432.4 803.3,429.8 825,429.8 825.9,431.8 830.7,432.1 831.5,433.7 836.6,433.7 837.2,431.8 838.1,432.1 839.1,434.5 840.5,434.9 843.4,438 856.6,437.9 859.1,440.5 860.3,439.9 861.5,437.8 862.8,439.9 865.2,440.9 871.3,440.9 872.2,442.3 873.4,440.9 876.8,440.9 878.7,443 905.6,443 906.8,445.2 912.3,445.4 913.6,444.8 914.2,448.5 915.4,448.8 916.3,453.4 917.5,453.1 919.7,449.3 921.5,449.3 922.1,450.5 924,450.5 925.8,446 928.3,445.8 929.5,443.6 932.5,441.1 938.7,440.9 939.9,438.3 943,437.8 944.2,436.8 948.5,436.6 949.7,434.8 950.5,434.5"/>
<g shape-rendering="crispEdges">
<rect x="47" y="533" width="906" height="1" fill="#707070"/>
<rect x="47" y="533" width="3" height="1" fill="#8C8C8C"/><rect x="49" y="533" width="1" height="1" fill="#A07070"/>
<path d="M51 533.5H951" stroke="#745656" stroke-dasharray="1 1" fill="none"/>
<rect x="50" y="31" width="1" height="506" fill="#767676"/>
</g>
<polygon points="953,530.2 958,533.2 953,536.2" fill="#7F1F1F"/>
<polygon points="48,31 54,31 51,26" fill="#7F1F1F"/>
<defs><g id="T">
<text transform="translate(32.69,536.95) scale(1,1.105)" font-size="9.59" letter-spacing="0.466" xml:space="preserve">-6</text>
<text transform="translate(32.69,515.21) scale(1,1.105)" font-size="9.59" letter-spacing="0.466" xml:space="preserve">-4</text>
<text transform="translate(32.69,493.47) scale(1,1.105)" font-size="9.59" letter-spacing="0.466" xml:space="preserve">-2</text>
<text transform="translate(38.91,471.73) scale(1,1.105)" font-size="9.59" letter-spacing="0.466" xml:space="preserve">0</text>
<text transform="translate(38.91,449.99) scale(1,1.105)" font-size="9.59" letter-spacing="0.466" xml:space="preserve">2</text>
<text transform="translate(38.91,428.25) scale(1,1.105)" font-size="9.59" letter-spacing="0.466" xml:space="preserve">4</text>
<text transform="translate(38.91,406.52) scale(1,1.105)" font-size="9.59" letter-spacing="0.466" xml:space="preserve">6</text>
<text transform="translate(38.91,384.78) scale(1,1.105)" font-size="9.59" letter-spacing="0.466" xml:space="preserve">8</text>
<text transform="translate(32.69,363.04) scale(1,1.105)" font-size="9.59" letter-spacing="0.466" xml:space="preserve">10</text>
<text transform="translate(32.69,341.30) scale(1,1.105)" font-size="9.59" letter-spacing="0.466" xml:space="preserve">12</text>
<text transform="translate(32.69,319.56) scale(1,1.105)" font-size="9.59" letter-spacing="0.466" xml:space="preserve">14</text>
<text transform="translate(32.69,297.82) scale(1,1.105)" font-size="9.59" letter-spacing="0.466" xml:space="preserve">16</text>
<text transform="translate(32.69,276.08) scale(1,1.105)" font-size="9.59" letter-spacing="0.466" xml:space="preserve">18</text>
<text transform="translate(32.69,254.34) scale(1,1.105)" font-size="9.59" letter-spacing="0.466" xml:space="preserve">20</text>
<text transform="translate(32.69,232.60) scale(1,1.105)" font-size="9.59" letter-spacing="0.466" xml:space="preserve">22</text>
<text transform="translate(32.69,210.86) scale(1,1.105)" font-size="9.59" letter-spacing="0.466" xml:space="preserve">24</text>
<text transform="translate(32.69,189.12) scale(1,1.105)" font-size="9.59" letter-spacing="0.466" xml:space="preserve">26</text>
<text transform="translate(32.69,167.38) scale(1,1.105)" font-size="9.59" letter-spacing="0.466" xml:space="preserve">28</text>
<text transform="translate(32.69,145.65) scale(1,1.105)" font-size="9.59" letter-spacing="0.466" xml:space="preserve">30</text>
<text transform="translate(32.69,123.91) scale(1,1.105)" font-size="9.59" letter-spacing="0.466" xml:space="preserve">32</text>
<text transform="translate(32.69,102.17) scale(1,1.105)" font-size="9.59" letter-spacing="0.466" xml:space="preserve">34</text>
<text transform="translate(32.69,80.43) scale(1,1.105)" font-size="9.59" letter-spacing="0.466" xml:space="preserve">36</text>
<text transform="translate(32.69,58.69) scale(1,1.105)" font-size="9.59" letter-spacing="0.466" xml:space="preserve">38</text>
<text transform="translate(32.69,36.95) scale(1,1.105)" font-size="9.59" letter-spacing="0.466" xml:space="preserve">40</text>
<text transform="translate(157.29,546.00) scale(1,1.105)" font-size="9.59" letter-spacing="0.466" xml:space="preserve">Fri</text>
<text transform="translate(285.86,546.00) scale(1,1.105)" font-size="9.59" letter-spacing="0.466" xml:space="preserve">Sat</text>
<text transform="translate(414.44,546.00) scale(1,1.105)" font-size="9.59" letter-spacing="0.466" xml:space="preserve">Sun</text>
<text transform="translate(543.01,546.00) scale(1,1.105)" font-size="9.59" letter-spacing="0.466" xml:space="preserve">Mon</text>
<text transform="translate(671.58,546.00) scale(1,1.105)" font-size="9.59" letter-spacing="0.466" xml:space="preserve">Tue</text>
<text transform="translate(800.15,546.00) scale(1,1.105)" font-size="9.59" letter-spacing="0.466" xml:space="preserve">Wed</text>
<text transform="translate(928.72,546.00) scale(1,1.105)" font-size="9.59" letter-spacing="0.466" xml:space="preserve">Thu</text>
<text transform="translate(31.37,562.00) scale(1,1.108)" font-size="10.92" letter-spacing="0.531" xml:space="preserve">Außentemperatur  Min:    -5.25  Mittel:     2.22  Max:     5.74</text>
<text transform="translate(31.37,576.00) scale(1,1.108)" font-size="10.92" letter-spacing="0.531" xml:space="preserve">Verbrauch         Min:    15.26  Mittel:    24.87  Max:    32.86</text>
<text transform="translate(387.06,18.00) scale(1,1.097)" font-size="12.30" letter-spacing="0.598" xml:space="preserve">Aussentemperatur-Verbrauch</text>
</g></defs>
<g opacity="0.999">
<use href="#T" fill="#000" stroke="#000" stroke-width="0.12"/>
<text transform="translate(969,5.7) rotate(90) scale(1,1.11)" font-size="8.2" letter-spacing="0.13" fill="#8C8C8C" xml:space="preserve">RRDTOOL / TOBI OETIKER</text>
</g>
<g shape-rendering="crispEdges">
<rect x="15.5" y="553.5" width="8" height="9" fill="#000" stroke="#000"/>
<rect x="15.5" y="567.5" width="8" height="9" fill="#FF0000" stroke="#000"/>
</g>
</svg></body></html>
